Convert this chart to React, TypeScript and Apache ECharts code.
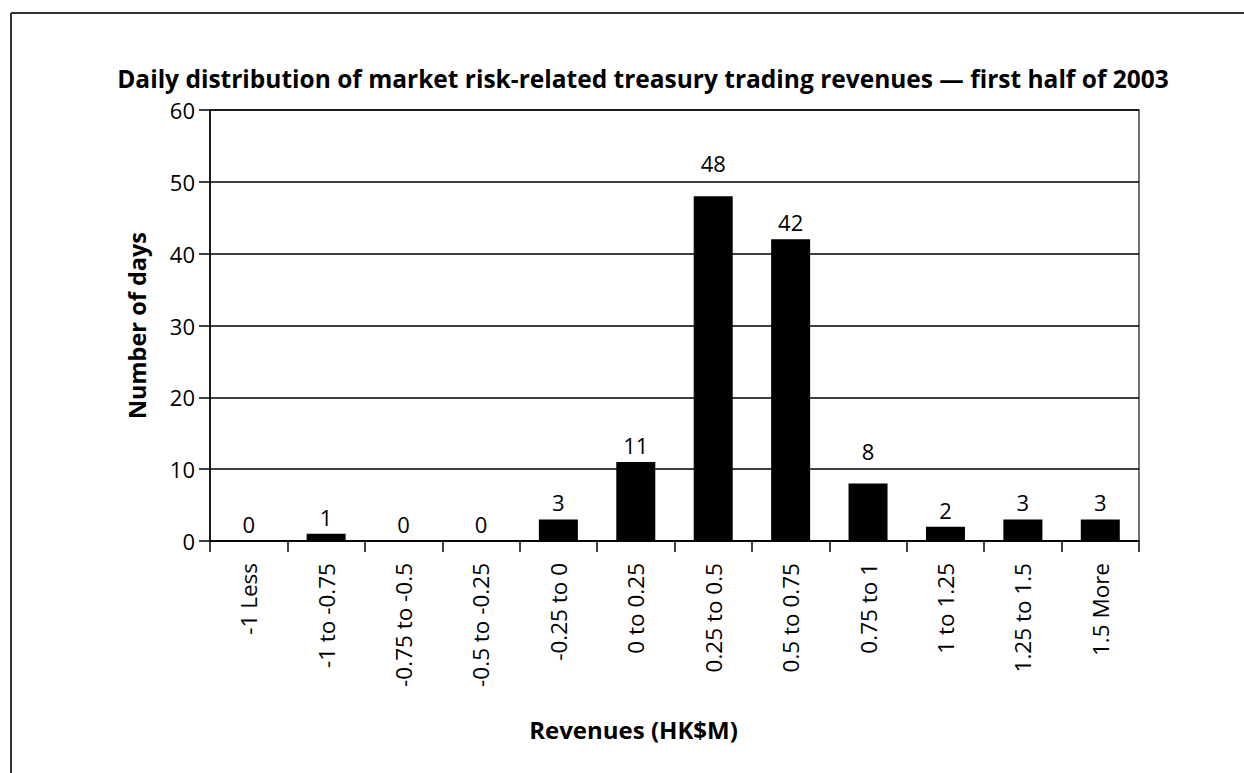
import React, { useEffect, useRef } from "react";
import * as echarts from "echarts";

const title = "Daily distribution of market risk-related treasury trading revenues — first half of 2003";
const xAxisName = "Revenues (HK$M)";
const yAxisName = "Number of days";
const categories = [
  "-1 Less",
  "-1 to -0.75",
  "-0.75 to -0.5",
  "-0.5 to -0.25",
  "-0.25 to 0",
  "0 to 0.25",
  "0.25 to 0.5",
  "0.5 to 0.75",
  "0.75 to 1",
  "1 to 1.25",
  "1.25 to 1.5",
  "1.5 More",
];
const days = [0, 1, 0, 0, 3, 11, 48, 42, 8, 2, 3, 3];
// labels raised clear of a gridline, as in the source
const raisedLabels = [48, 8];

const FONT = "'Open Sans', 'Noto Sans', sans-serif";

export default function App() {
  const ref = useRef<HTMLDivElement>(null);
  useEffect(() => {
    if (!ref.current) return;
    const chart = echarts.init(ref.current, undefined, { renderer: "svg" });
    chart.setOption({
      animation: false,
      backgroundColor: "#ffffff",
      title: {
        text: title,
        left: 638,
        top: 61,
        textAlign: "center",
        textStyle: { fontFamily: FONT, fontWeight: "bold", fontSize: 24.5, color: "#000" },
      },
      grid: {
        left: 210,
        right: 105,
        top: 110,
        bottom: 232,
        show: true,
        borderColor: "#444",
        borderWidth: 1.5,
        backgroundColor: "transparent",
      },
      xAxis: {
        type: "category",
        data: categories,
        name: xAxisName,
        nameLocation: "middle",
        nameGap: 176,
        nameTextStyle: {
          fontFamily: FONT,
          fontWeight: "bold",
          fontSize: 24,
          color: "#000",
          padding: [0, 82, 0, 0],
        },
        axisLine: { lineStyle: { color: "#000", width: 1.5 } },
        axisTick: { show: true, interval: 0, length: 11, lineStyle: { color: "#000", width: 1.5 } },
        axisLabel: {
          interval: 0,
          rotate: 90,
          margin: 22,
          fontFamily: FONT,
          fontSize: 22.5,
          color: "#000",
        },
      },
      yAxis: {
        type: "value",
        min: 0,
        max: 60,
        interval: 10,
        name: yAxisName,
        nameLocation: "middle",
        nameGap: 61,
        nameTextStyle: { fontFamily: FONT, fontWeight: "bold", fontSize: 23.5, color: "#000" },
        axisLine: { show: true, lineStyle: { color: "#000", width: 1.5 } },
        axisTick: { show: true, length: 11, lineStyle: { color: "#000", width: 1.5 } },
        axisLabel: { margin: 15, fontFamily: FONT, fontSize: 22, color: "#000" },
        splitLine: { show: true, lineStyle: { color: "#000", width: 1.5 } },
      },
      series: [
        {
          type: "bar",
          data: days.map((v) =>
            raisedLabels.includes(v) ? { value: v, label: { distance: 22 } } : v
          ),
          barWidth: 39,
          itemStyle: { color: "#000" },
          label: {
            show: true,
            position: "top",
            distance: 6,
            fontFamily: FONT,
            fontSize: 22,
            color: "#000",
          },
        },
      ],
      graphic: [
        {
          type: "line",
          shape: { x1: 11, y1: 13, x2: 1244, y2: 13 },
          style: { stroke: "#333", lineWidth: 2 },
        },
        {
          type: "line",
          shape: { x1: 11, y1: 13, x2: 11, y2: 773 },
          style: { stroke: "#333", lineWidth: 2 },
        },
      ],
    });
    return () => chart.dispose();
  }, []);
  return (
    <div
      ref={ref}
      style={{ position: "fixed", left: 0, top: 0, width: 1244, height: 773 }}
    />
  );
}
